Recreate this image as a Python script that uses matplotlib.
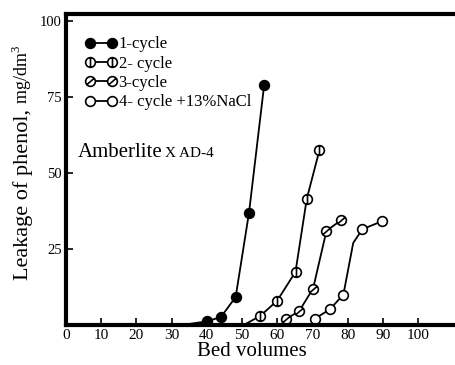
import matplotlib
matplotlib.use('Agg')
import matplotlib.pyplot as plt
from matplotlib.path import Path
from matplotlib.lines import Line2D
from matplotlib.legend_handler import HandlerLine2D

plt.rcParams['font.family'] = ['Liberation Serif', 'DejaVu Serif']
plt.rcParams['mathtext.fontset'] = 'custom'
plt.rcParams['mathtext.rm'] = 'Liberation Serif'

# data (bed volumes, leakage mg/dm3)
c1_x = [40, 44, 48.2, 52, 56.3]
c1_y = [1.2, 2.6, 9.2, 37, 79]
c2_x = [55.2, 60, 65.2, 68.4, 72]
c2_y = [3, 8, 17.5, 41.5, 57.5]
c3_x = [62.5, 66.2, 70.2, 74, 78.2]
c3_y = [2, 4.5, 12, 31, 34.5]
c4_x = [70.6, 75, 78.8, 84.2, 89.9]
c4_y = [2, 5.2, 10, 31.5, 34.2]

# unmarked start / bend points of the drawn curves
c1_start = (33, 0)
c2_start = (50.5, 0)
c4_bend = (81.6, 27)

labels = ['1-cycle', '2- cycle', '3-cycle', '4- cycle +13%NaCl']
xticks = list(range(0, 101, 10))
yticks = [0, 25, 50, 75, 100]

# custom markers: circle with vertical bar, circle with slash
circ = Path.unit_circle()
m_vert = Path.make_compound_path(circ, Path([(0, -1), (0, 1)], [Path.MOVETO, Path.LINETO]))
m_slash = Path.make_compound_path(circ, Path([(-0.75, -0.65), (0.75, 0.65)], [Path.MOVETO, Path.LINETO]))

ms = 7
mew = 1.2
lw = 1.3

fig = plt.figure(figsize=(4.56, 3.65), dpi=100)
ax = fig.add_axes([66 / 456, 40 / 365, 1 - 66 / 456, 311 / 365])

ax.plot([c1_start[0]] + c1_x, [c1_start[1]] + c1_y, color='black', lw=lw)
ax.plot(c1_x, c1_y, ls='none', marker='o', ms=ms, mfc='black', mec='black', mew=mew)

ax.plot([c2_start[0]] + c2_x, [c2_start[1]] + c2_y, color='black', lw=lw)
ax.plot(c2_x, c2_y, ls='none', marker=m_vert, ms=ms, mfc='white', mec='black', mew=mew)

ax.plot(c3_x, c3_y, color='black', lw=lw)
ax.plot(c3_x, c3_y, ls='none', marker=m_slash, ms=ms, mfc='white', mec='black', mew=mew)

ax.plot(c4_x[:3] + [c4_bend[0]] + c4_x[3:], c4_y[:3] + [c4_bend[1]] + c4_y[3:], color='black', lw=lw)
ax.plot(c4_x, c4_y, ls='none', marker='o', ms=ms, mfc='white', mec='black', mew=mew)

ax.set_xlim(0, 390 / 3.52)
ax.set_ylim(0, 311 / 3.04)

for s in ['left', 'bottom', 'top']:
    ax.spines[s].set_linewidth(3)
ax.spines['right'].set_visible(False)

ax.set_xticks(xticks)
ax.set_yticks(yticks)
ax.set_yticklabels([''] + [str(t) for t in yticks[1:]])
ax.tick_params(axis='x', direction='in', length=5, width=1.2, labelsize=11, pad=3)
ax.tick_params(axis='y', direction='in', length=5, width=1.2, labelsize=10.5, pad=3)
ax.tick_params(top=False, right=False)

ax.set_xlabel('Bed volumes', fontsize=15, labelpad=1)
ax.xaxis.set_label_coords(0.477, -0.055, transform=ax.transAxes)
ax.xaxis.label.set_va('top')

# y label in two sizes
t1 = fig.text(28 / 456, 85 / 365, 'Leakage of phenol,', fontsize=16, rotation=90,
              rotation_mode='anchor', ha='left', va='baseline')
fig.canvas.draw()
bb = t1.get_window_extent()
fig.text(28 / 456, (bb.y1 + 5) / 365, 'mg/dm$^3$', fontsize=13, rotation=90,
         rotation_mode='anchor', ha='left', va='baseline')

ax.text(3.4, 55.3, 'Amberlite', fontsize=15, ha='left', va='baseline')
ax.text(28.2, 55.3, 'X AD-4', fontsize=11, ha='left', va='baseline')

handles = [
    Line2D([], [], color='black', lw=lw, marker='o', ms=ms, mfc='black', mec='black', mew=mew),
    Line2D([], [], color='black', lw=lw, marker=m_vert, ms=ms, mfc='white', mec='black', mew=mew),
    Line2D([], [], color='black', lw=lw, marker=m_slash, ms=ms, mfc='white', mec='black', mew=mew),
    Line2D([], [], color='black', lw=lw, marker='o', ms=ms, mfc='white', mec='black', mew=mew),
]
ax.legend(handles, labels, loc='upper left', bbox_to_anchor=(0.0615, 0.928), frameon=False,
          numpoints=2, handlelength=1.32, handletextpad=0.4, labelspacing=0.2,
          borderpad=0, borderaxespad=0, fontsize=12,
          handler_map={Line2D: HandlerLine2D(marker_pad=0)})

fig.savefig('out.png', dpi=100, facecolor='white')
